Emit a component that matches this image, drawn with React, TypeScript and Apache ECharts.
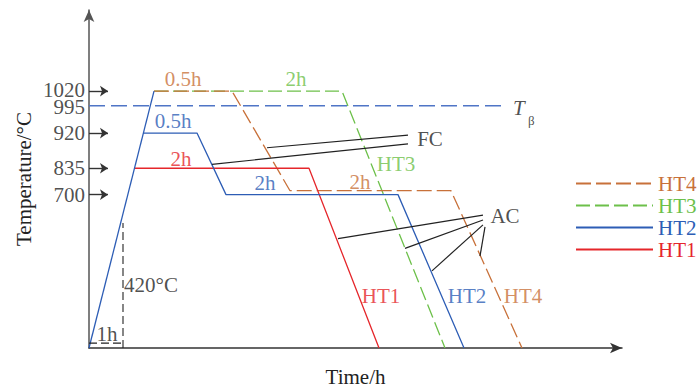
import React, { useEffect, useRef } from "react";
import * as echarts from "echarts";

// Schematic coordinates (x: time units, y: schematic temperature units)
const HEATING = [[0, 0], [65, 263]];
const HT1 = [[45, 184], [220, 184], [290, 0]];
const HT2 = [[54, 220], [108, 220], [137, 157], [309, 157], [375, 0]];
const HT3 = [[65, 263], [253, 263], [356, 0]];
const HT4 = [[65, 263], [143, 263], [201, 161], [362, 161], [433, 0]];
const T_BETA = [[0, 248], [416, 248]];
const MARK_420 = [[34, 0], [34, 128]];
const MARK_1H = [[0, 5], [34, 5]];

// y-axis tick positions and their temperature labels
const Y_TICK_POS = [157, 184, 220, 247, 264];
const Y_TICK_LABELS = ["700", "835", "920", "995", "1020"];
const TICK_ARROW_POS = [157, 184, 220, 263];

// leader lines for FC / AC
const FC_LINES = [
  [[178, 205], [319, 218]],
  [[123, 188], [319, 209]],
];
const AC_LINES = [
  [[394, 136], [249, 112]],
  [[394, 131], [316, 102]],
  [[394, 126], [343, 79]],
  [[396, 124], [391, 94]],
];

const C_ORANGE = "#C8713A";
const C_GREEN = "#6DC04A";
const C_BLUE = "#2D5DB5";
const C_RED = "#E5262B";
const C_TB = "#4F75C6";
const C_BLACK = "#222222";

// text annotations: [label, x, y, color]
const NOTES: [string, number, number, string][] = [
  ["0.5h", 94, 275, C_ORANGE],
  ["2h", 207, 275, C_GREEN],
  ["0.5h", 84, 232, C_BLUE],
  ["2h", 92, 193, C_RED],
  ["2h", 176, 169, C_BLUE],
  ["2h", 271, 170, C_ORANGE],
  ["HT3", 307, 188, C_GREEN],
  ["FC", 341, 214, C_BLACK],
  ["AC", 416, 135, C_BLACK],
  ["HT1", 292, 53, C_RED],
  ["HT2", 378, 53, C_BLUE],
  ["HT4", 434, 53, C_ORANGE],
  ["1h", 18, 14, C_BLACK],
];

const FONT = "'Liberation Serif', 'Times New Roman', serif";
const FS = 21;

export default function App() {
  const ref = useRef<HTMLDivElement>(null);
  useEffect(() => {
    if (!ref.current) return;
    const chart = echarts.init(ref.current, null, { renderer: "svg" });
    const line = (name: string, data: number[][], color: string, dash: any, width = 1.3) => ({
      type: "line",
      name,
      data,
      symbol: "none",
      silent: true,
      lineStyle: { color, width, type: dash },
      itemStyle: { color },
    });
    const seg = (pairs: number[][][]) =>
      pairs.map((p) => [{ coord: p[0] }, { coord: p[1] }]);
    const textSeries = (name: string, data: any[]) => ({
      type: "scatter",
      name,
      silent: true,
      clip: false,
      symbol: "circle",
      symbolSize: 1,
      itemStyle: { color: "rgba(0,0,0,0)" },
      labelLayout: { hideOverlap: false },
      label: {
        show: true,
        position: "inside",
        formatter: "{b}",
        fontSize: FS,
        fontFamily: FONT,
      },
      data,
    });
    chart.setOption({
      animation: false,
      textStyle: { fontFamily: FONT },
      grid: { left: 89, right: 75, top: 10, bottom: 36 },
      legend: {
        orient: "vertical",
        left: 575,
        top: 173,
        padding: 0,
        itemWidth: 77,
        itemHeight: 14,
        itemGap: 1,
        selectedMode: false,
        itemStyle: { color: "rgba(0,0,0,0)", borderWidth: 0, opacity: 0 },
        textStyle: { fontSize: FS, fontFamily: FONT },
        data: [
          { name: "HT4", textStyle: { color: C_ORANGE } },
          { name: "HT3", textStyle: { color: C_GREEN } },
          { name: "HT2", textStyle: { color: C_BLUE } },
          { name: "HT1", textStyle: { color: C_RED } },
        ],
      },
      xAxis: {
        type: "value",
        min: 0,
        max: 533,
        name: "Time/h",
        nameLocation: "middle",
        nameGap: 18,
        nameTextStyle: { fontSize: FS, color: C_BLACK, fontFamily: FONT },
        axisLine: { lineStyle: { color: "#333", width: 1.5 }, symbol: ["none", "arrow"], symbolSize: [8, 12] },
        axisTick: { show: false },
        axisLabel: { show: false },
        splitLine: { show: false },
      },
      yAxis: {
        type: "value",
        min: 0,
        max: 346,
        name: "Temperature/°C",
        nameLocation: "middle",
        nameGap: 55,
        nameTextStyle: { fontSize: FS, color: C_BLACK, fontFamily: FONT },
        axisLine: { lineStyle: { color: "#555", width: 1.5 }, symbol: ["none", "arrow"], symbolSize: [8, 12] },
        axisTick: { show: false },
        splitLine: { show: false },
        axisLabel: { show: false },
      },
      series: [
        line("Tb", T_BETA, C_TB, [16, 6], 1.4),
        line("HT3", HT3, C_GREEN, [14, 5]),
        line("HT4", HT4, C_ORANGE, [15, 5]),
        line("HT1", HT1, C_RED, "solid"),
        line("HT2", HT2, C_BLUE, "solid"),
        {
          ...line("heating", HEATING, C_BLUE, "solid"),
          markLine: {
            silent: true,
            symbol: ["none", "arrow"],
            symbolSize: 8,
            label: { show: false },
            lineStyle: { color: "#333", width: 1.4, type: "solid" },
            data: TICK_ARROW_POS.map((y) => [{ coord: [0, y] }, { coord: [19, y] }]),
          },
        },
        line("m420", MARK_420, C_BLACK, [8, 4], 1.1),
        line("m1h", MARK_1H, C_BLACK, [8, 4], 1.1),
        {
          type: "line",
          name: "leaders",
          data: [],
          symbol: "none",
          markLine: {
            silent: true,
            symbol: ["none", "none"],
            label: { show: false },
            lineStyle: { color: C_BLACK, width: 1.2, type: "solid" },
            data: [...seg(FC_LINES), ...seg(AC_LINES)],
          },
        },
        textSeries(
          "yticks",
          Y_TICK_POS.map((y, i) => ({
            name: Y_TICK_LABELS[i],
            value: [-4, y],
            label: { color: C_BLACK, align: "right" },
          }))
        ),
        textSeries("notes", [
          ...NOTES.map(([t, x, y, c]) => ({ name: t, value: [x, y], label: { color: c } })),
          { name: "420°C", value: [35, 65], label: { color: C_BLACK, align: "left" } },
          { name: "T", value: [424, 246], label: { color: C_BLACK, align: "left", fontStyle: "italic" } },
          { name: "β", value: [439, 233], label: { color: C_BLACK, align: "left", fontSize: 13 } },
        ]),
      ],
    });
    return () => chart.dispose();
  }, []);
  return (
    <div
      ref={ref}
      style={{ position: "fixed", left: 0, top: 0, width: 697, height: 392, background: "#fff" }}
    />
  );
}
